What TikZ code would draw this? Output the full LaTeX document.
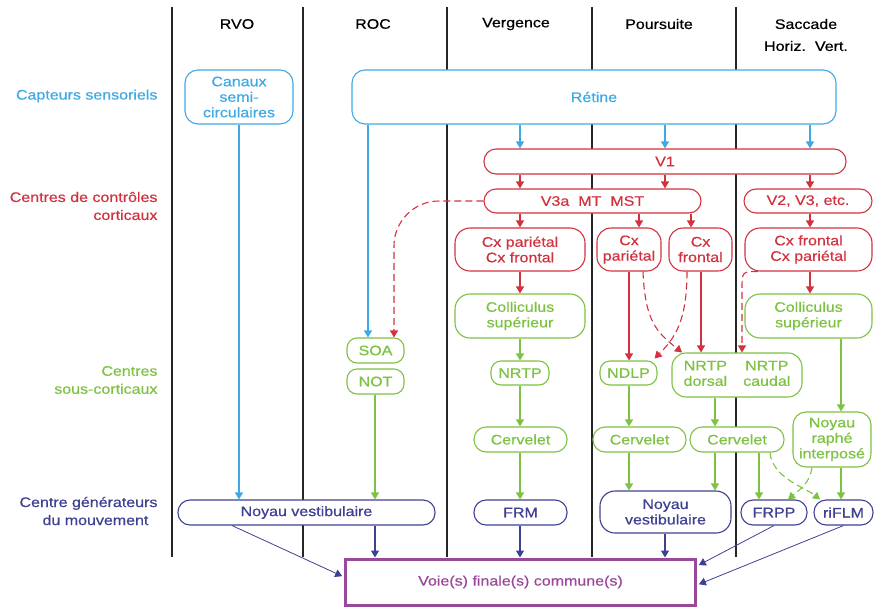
\documentclass[tikz,border=0pt]{standalone}
\usepackage{fontspec}
\setmainfont{Liberation Sans}[FakeStretch=1.16,FakeBold=0.6]
\usetikzlibrary{arrows.meta,calc}
\definecolor{cblue}{HTML}{3FA9E5}
\definecolor{cred}{HTML}{D2323F}
\definecolor{cgreen}{HTML}{7DC242}
\definecolor{cnavy}{HTML}{3E4193}
\definecolor{cpurp}{HTML}{99489A}
\begin{document}
\begin{tikzpicture}[x=1pt,y=-1pt,
  font=\fontsize{13.8pt}{15.5pt}\selectfont,
  box/.style={draw=#1, text=#1, fill=white, line width=1.1pt, rounded corners=10pt, align=center, inner sep=0pt},
  arr/.style={draw=#1, line width=1.1pt, -{Triangle[length=7pt,width=8pt]}},
  darr/.style={arr=#1, dash pattern=on 7pt off 4pt},
  sepline/.style={line width=2pt, black!85},
  lab/.style={text=#1, anchor=east, align=right, font=\fontsize{13.8pt}{18pt}\selectfont},
  hdr/.style={text=black}]
\useasboundingbox (0,0) rectangle (874,607);

% column separators
\foreach \x in {172,303,447,592,736} \draw[sepline] (\x,7) -- (\x,557);

% headers
\node[hdr] (hRVO) at (237,24) {RVO};
\node[hdr] (hROC) at (373,24) {ROC};
\node[hdr] (hVer) at (516,24) {Vergence};
\node[hdr] (hPou) at (659,24) {Poursuite};
\node[hdr] (hSac) at (806,24) {Saccade};
\node[hdr] (hHV) at (806,46) {Horiz.\hspace{9pt}Vert.};

% left labels
\node[lab=cblue] (lcap) at (161,96) {Capteurs sensoriels};
\node[lab=cred] (lcor) at (161,206) {Centres de contrôles\\corticaux};
\node[lab=cgreen] (lsub) at (161,380) {Centres\\sous-corticaux};
\node[lab=cnavy] (lgen) at (161,511) {Centre générateurs\\du mouvement\hspace*{9pt}};

% x positions of connectors
\coordinate (xRVO) at (239,0);
\coordinate (xROC) at (368,0);
\coordinate (xSD) at (394,0);
\coordinate (xNOT) at (375,0);
\coordinate (xNVd) at (232,0);
\coordinate (xV) at (520,0);
\coordinate (xP) at (665,0);
\coordinate (xS) at (810,0);
\coordinate (xPa) at (639,0);
\coordinate (xPf) at (691,0);
\coordinate (xPp) at (629,0);
\coordinate (xPd1) at (643,0);
\coordinate (xPd2) at (687,0);
\coordinate (xPf2) at (701,0);
\coordinate (xNd) at (682,0);
\coordinate (xNc) at (715,0);
\coordinate (xSc) at (758,0);
\coordinate (xSc2) at (742,0);
\coordinate (xFR) at (759,0);
\coordinate (xCS) at (841,0);
\coordinate (xCd) at (770,0);
\coordinate (xFd) at (788,0);
\coordinate (xRd) at (820,0);
\coordinate (xRa) at (812,0);

% sensory
\node[box=cblue, rounded corners=13pt, minimum width=108pt, minimum height=54pt] (canaux) at (239,97) {Canaux\\semi-\\circulaires};
\node[box=cblue, rounded corners=13pt, minimum width=484pt, minimum height=54pt] (retine) at (594,97) {Rétine};

% cortical
\node[box=cred, rounded corners=12pt, minimum width=362pt, minimum height=25pt] (v1) at (665,161.5) {V1};
\node[box=cred, rounded corners=12pt, minimum width=217pt, minimum height=24pt] (v3a) at (592.5,201) {V3a\hspace{9pt}MT\hspace{9pt}MST};
\node[box=cred, rounded corners=12pt, minimum width=128pt, minimum height=24pt] (v2) at (808,201) {V2, V3, etc.};
\node[box=cred, rounded corners=15pt, minimum width=130pt, minimum height=43pt] (cxv) at (520,249.5) {Cx pariétal\\Cx frontal};
\node[box=cred, rounded corners=14pt, minimum width=64pt, minimum height=43pt] (cxp) at (629,249.5) {Cx\\pariétal};
\node[box=cred, rounded corners=14pt, minimum width=63pt, minimum height=43pt] (cxf) at (700.5,249.5) {Cx\\frontal};
\node[box=cred, rounded corners=15pt, minimum width=127pt, minimum height=43pt] (cxs) at (808.5,249.5) {Cx frontal\\Cx pariétal};

% subcortical
\node[box=cgreen, rounded corners=15pt, minimum width=130pt, minimum height=44pt] (colv) at (520,316) {Colliculus\\supérieur};
\node[box=cgreen, rounded corners=15pt, minimum width=127pt, minimum height=44pt] (cols) at (808.5,316) {Colliculus\\supérieur};
\node[box=cgreen, minimum width=57pt, minimum height=25pt] (soa) at (375.5,350.5) {SOA};
\node[box=cgreen, minimum width=57pt, minimum height=25pt] (not) at (375.5,381.5) {NOT};
\node[box=cgreen, minimum width=58pt, minimum height=24pt] (nrtpv) at (520,373) {NRTP};
\node[box=cgreen, minimum width=57pt, minimum height=24pt] (ndlp) at (628.5,373) {NDLP};
\node[box=cgreen, rounded corners=14pt, minimum width=130pt, minimum height=44pt] (nrtp2) at (737,375)
  {\begin{tabular}{@{}c@{\hspace{16pt}}c@{}}NRTP&NRTP\\dorsal&caudal\end{tabular}};
\node[box=cgreen, rounded corners=12pt, minimum width=93pt, minimum height=25pt] (cerv) at (520.5,439.5) {Cervelet};
\node[box=cgreen, rounded corners=12pt, minimum width=93pt, minimum height=25pt] (cerp1) at (639.5,439.5) {Cervelet};
\node[box=cgreen, rounded corners=12pt, minimum width=94pt, minimum height=25pt] (cerp2) at (737,439.5) {Cervelet};
\node[box=cgreen, rounded corners=13pt, minimum width=78pt, minimum height=55pt] (nri) at (832,439.5) {Noyau\\raphé\\interposé};

% generators
\node[box=cnavy, rounded corners=12pt, minimum width=257pt, minimum height=25pt] (nvl) at (306.5,512.5) {Noyau vestibulaire};
\node[box=cnavy, rounded corners=12pt, minimum width=93pt, minimum height=25pt] (frm) at (520.5,512.5) {FRM};
\node[box=cnavy, rounded corners=15pt, minimum width=131pt, minimum height=42pt] (nvp) at (665.5,512) {Noyau\\vestibulaire};
\node[box=cnavy, rounded corners=12pt, minimum width=66pt, minimum height=25pt] (frpp) at (774,512.5) {FRPP};
\node[box=cnavy, rounded corners=12pt, minimum width=59pt, minimum height=25pt] (riflm) at (843.5,512.5) {riFLM};

% final common path
\node[draw=cpurp, text=cpurp, fill=white, line width=3pt, minimum width=350pt, minimum height=46pt, inner sep=0pt] (voie) at (520.5,582) {Voie(s) finale(s) commune(s)};

% blue connectors
\draw[arr=cblue] (canaux.south -| xRVO) -- (nvl.north -| xRVO);
\draw[arr=cblue] (retine.south -| xROC) -- (soa.north -| xROC);
\foreach \c in {xV,xP,xS} \draw[arr=cblue] (retine.south -| \c) -- (v1.north -| \c);

% red connectors
\foreach \c in {xV,xP} \draw[arr=cred] (v1.south -| \c) -- (v3a.north -| \c);
\draw[arr=cred] (v1.south -| xS) -- (v2.north -| xS);
\draw[arr=cred] (v3a.south -| xV) -- (cxv.north -| xV);
\draw[arr=cred] (v3a.south -| xPa) -- (cxp.north -| xPa);
\draw[arr=cred] (v3a.south -| xPf) -- (cxf.north -| xPf);
\draw[arr=cred] (v2.south -| xS) -- (cxs.north -| xS);
\draw[arr=cred] (cxv.south -| xV) -- (colv.north -| xV);
\draw[arr=cred] (cxs.south -| xS) -- (cols.north -| xS);
\draw[arr=cred] (cxp.south -| xPp) -- (ndlp.north -| xPp);
\draw[arr=cred] (cxf.south -| xPf2) -- (nrtp2.north -| xPf2);
\draw[darr=cred, rounded corners=45pt] (v3a.west) -| (soa.north -| xSD);
\draw[darr=cred] (cxp.south -| xPd1) .. controls +(2,50) and +(-25,-20) .. (nrtp2.north -| xNd);
\draw[darr=cred] (cxf.south -| xPd2) .. controls +(0,50) and +(20,-20) .. ([xshift=-3pt,yshift=2pt]ndlp.north east);
\draw[darr=cred] (cxs.south -| xSc) .. controls (cxs.south -| xSc2) .. ($(cxs.south -| xSc2)+(0,18)$) -- (nrtp2.north -| xSc2);

% green connectors
\draw[arr=cgreen] (not.south -| xNOT) -- (nvl.north -| xNOT);
\draw[arr=cgreen] (colv.south -| xV) -- (nrtpv.north -| xV);
\draw[arr=cgreen] (nrtpv.south -| xV) -- (cerv.north -| xV);
\draw[arr=cgreen] (cerv.south -| xV) -- (frm.north -| xV);
\draw[arr=cgreen] (ndlp.south -| xPp) -- (cerp1.north -| xPp);
\draw[arr=cgreen] (nrtp2.south -| xNc) -- (cerp2.north -| xNc);
\draw[arr=cgreen] (cerp1.south -| xPp) -- (nvp.north -| xPp);
\draw[arr=cgreen] (cerp2.south -| xNc) -- (nvp.north -| xNc);
\draw[arr=cgreen] (cerp2.south -| xFR) -- (frpp.north -| xFR);
\draw[arr=cgreen] (cols.south -| xCS) -- (nri.north -| xCS);
\draw[arr=cgreen] (nri.south -| xCS) -- (riflm.north -| xCS);
\draw[darr=cgreen] (nri.south -| xRa) .. controls +(-2,15) and +(12,-10) .. (frpp.north -| xFd);
\draw[darr=cgreen] (cerp2.south -| xCd) .. controls +(2,25) and +(-15,-12) .. (riflm.north -| xRd);

% navy connectors
\draw[arr=cnavy] (nvl.south -| xNOT) -- (voie.north -| xNOT);
\draw[arr=cnavy, line width=0.8pt, shorten >=2pt] (nvl.south -| xNVd) -- ([yshift=5pt]voie.west);
\draw[arr=cnavy] (frm.south -| xV) -- (voie.north -| xV);
\draw[arr=cnavy] (nvp.south -| xP) -- (voie.north -| xP);
\draw[arr=cnavy, line width=0.8pt, shorten >=2pt] (frpp.south) -- ([yshift=16pt]voie.east);
\draw[arr=cnavy, line width=0.8pt, shorten >=2pt] (riflm.south) -- ([yshift=-3pt]voie.east);
\end{tikzpicture}
\end{document}
